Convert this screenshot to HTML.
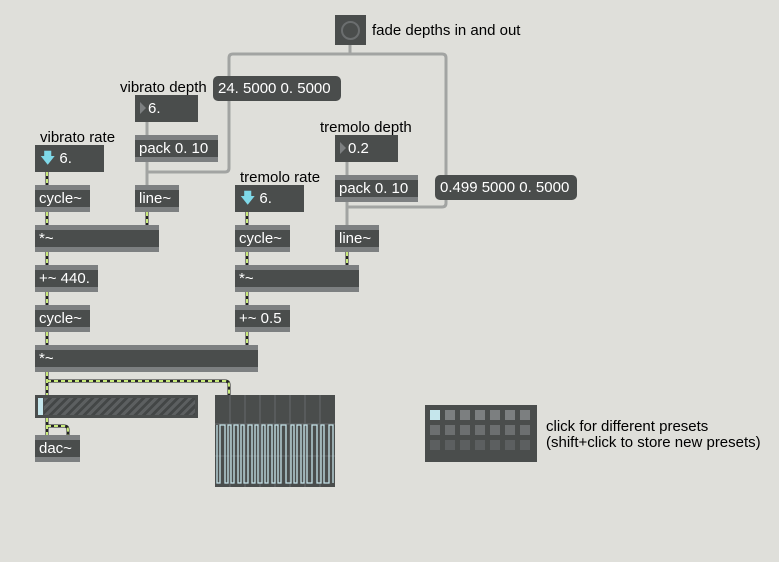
<!DOCTYPE html>
<html><head><meta charset="utf-8"><style>
body{margin:0;width:779px;height:562px;background:#dfdfda;position:relative;overflow:hidden;font-family:"Liberation Sans",sans-serif;}
.o{position:absolute;background:#4a4d4c;height:27px;color:#fff;font-size:15px;box-sizing:border-box;white-space:nowrap;}
.o.obj{border-top:5px solid #7d8081;border-bottom:5px solid #7d8081;line-height:17px;padding-left:4px;}
.o.num{line-height:27px;padding-left:5px;}
.o.msg{border-radius:5px;line-height:25px;padding-left:5px;height:25px;}
.l{position:absolute;font-size:15px;color:#000;white-space:nowrap;}
svg{position:absolute;left:0;top:0;}
.tri{display:inline-block;width:0;height:0;border-top:6px solid transparent;border-bottom:6px solid transparent;border-left:6px solid #7d8081;margin-right:2px;vertical-align:-1px;}
.arr{display:inline-block;color:#7fd8e8;font-size:15px;margin-right:4px;}
</style></head><body>
<svg width="779" height="562">
<g fill="none" stroke="#a2a4a2" stroke-width="3" stroke-linejoin="round">
<path d="M350 45 V54 H442 Q446 54 446 58 V177"/>
<path d="M350 54 H233 Q229 54 229 58 V77"/>
<path d="M229 100 V168 Q229 172 225 172 H147 V186"/>
<path d="M147 122 V136"/>
<path d="M147 162 V186"/>
<path d="M347 162 V176"/>
<path d="M446 200 V203 Q446 207 442 207 H347 V226"/>
<path d="M347 202 V226"/>
</g>
<g fill="none" stroke="#222" stroke-width="3">
<path d="M47 172V186M47 212V226M147 212V226M47 252V266M47 292V306M47 332V346M247 212V226M247 252V266M347 252V266M247 292V306M247 332V346M47 372V396M47 381H225Q229 381 229 385V396M47 418V436M47 426H64Q68 426 68 430V436"/>
</g>
<g fill="none" stroke="#c8ea7a" stroke-width="2" stroke-dasharray="4 3">
<path d="M47 172V186M47 212V226M147 212V226M47 252V266M47 292V306M47 332V346M247 212V226M247 252V266M347 252V266M247 292V306M247 332V346M47 372V396M47 381H225Q229 381 229 385V396M47 418V436M47 426H64Q68 426 68 430V436"/>
</g>
</svg>
<div class="o" style="left:335px;top:15px;width:31px;height:30px;"><div style="position:absolute;left:6px;top:6px;width:15px;height:15px;border:2px solid #6b6e6f;border-radius:50%;"></div></div>
<div class="l" style="left:372px;top:22px;">fade depths in and out</div>
<div class="l" style="left:120px;top:79px;">vibrato depth</div>
<div class="o num" style="left:135px;top:95px;width:63px;"><span class="tri"></span>6.</div>
<div class="o msg" style="left:213px;top:76px;width:128px;">24. 5000 0. 5000</div>
<div class="o obj" style="left:135px;top:135px;width:83px;">pack 0. 10</div>
<div class="l" style="left:40px;top:129px;">vibrato rate</div>
<div class="o num" style="left:35px;top:145px;width:69px;"><span class="arr">🡇</span>6.</div>
<div class="o obj" style="left:35px;top:185px;width:55px;">cycle~</div>
<div class="o obj" style="left:135px;top:185px;width:44px;">line~</div>
<div class="o obj" style="left:35px;top:225px;width:124px;">*~</div>
<div class="o obj" style="left:35px;top:265px;width:63px;">+~ 440.</div>
<div class="o obj" style="left:35px;top:305px;width:55px;">cycle~</div>
<div class="o obj" style="left:35px;top:345px;width:223px;">*~</div>
<div class="o" style="left:35px;top:395px;width:163px;height:23px;"><div style="position:absolute;left:3px;top:3px;width:5px;height:17px;background:#c5e6ec"></div><div style="position:absolute;left:9px;top:3px;right:3px;height:17px;background:repeating-linear-gradient(135deg,#5c5f60 0 3px,#434646 3px 6px);"></div></div>
<div class="o obj" style="left:35px;top:435px;width:45px;">dac~</div>
<div class="l" style="left:240px;top:169px;">tremolo rate</div>
<div class="o num" style="left:235px;top:185px;width:69px;"><span class="arr">🡇</span>6.</div>
<div class="o obj" style="left:235px;top:225px;width:55px;">cycle~</div>
<div class="o obj" style="left:235px;top:265px;width:124px;">*~</div>
<div class="o obj" style="left:235px;top:305px;width:55px;">+~ 0.5</div>
<div class="l" style="left:320px;top:119px;">tremolo depth</div>
<div class="o num" style="left:335px;top:135px;width:63px;"><span class="tri"></span>0.2</div>
<div class="o obj" style="left:335px;top:175px;width:83px;">pack 0. 10</div>
<div class="o msg" style="left:435px;top:175px;width:142px;">0.499 5000 0. 5000</div>
<div class="o obj" style="left:335px;top:225px;width:44px;">line~</div>
<svg style="left:215px;top:395px" width="120" height="92">
<rect width="120" height="92" fill="#4a4d4c"/>
<g stroke="#5d6061" stroke-width="1.5"><path d="M15 0V92M30 0V92M45 0V92M60 0V92M75 0V92M90 0V92M105 0V92M0 29H120M0 61H120"/></g>
<polyline fill="none" stroke="#c5e3e8" stroke-width="1.3" points="2,30 2,88 5,88 5,30 10,30 10,88 13,88 13,30 16,30 16,88 19,88 19,30 23,30 23,88 26,88 26,30 29,30 29,88 33,88 33,30 37,30 37,88 40,88 40,30 43,30 43,88 47,88 47,30 50,30 50,88 53,88 53,30 57,30 57,88 60,88 60,30 63,30 63,88 66,88 66,30 71,30 71,88 76,88 76,30 79,30 79,88 82,88 82,30 86,30 86,88 89,88 89,30 92,30 92,88 97,88 97,30 102,30 102,88 106,88 106,30 109,30 109,88 114,88 114,30 118,30 118,88"/>
</svg>
<div class="o" style="left:425px;top:405px;width:112px;height:57px;">
<div style="position:absolute;left:5px;top:5px;width:10px;height:10px;background:#c5e6ec"></div>
<div style="position:absolute;left:20px;top:5px;width:85px;height:10px;background:repeating-linear-gradient(90deg,#7c7f80 0 10px,transparent 10px 15px)"></div>
<div style="position:absolute;left:5px;top:20px;width:100px;height:10px;background:repeating-linear-gradient(90deg,#6c6f70 0 10px,transparent 10px 15px)"></div>
<div style="position:absolute;left:5px;top:35px;width:100px;height:10px;background:repeating-linear-gradient(90deg,#5c5f60 0 10px,transparent 10px 15px)"></div>
</div>
<div class="l" style="left:546px;top:418px;">click for different presets</div>
<div class="l" style="left:546px;top:434px;">(shift+click to store new presets)</div>
</body></html>
